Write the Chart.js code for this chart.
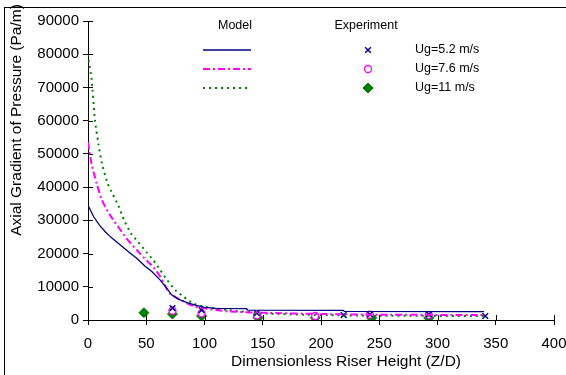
<!DOCTYPE html>
<html>
<head>
<meta charset="utf-8">
<script src="https://cdn.jsdelivr.net/npm/chart.js@4/dist/chart.umd.min.js"></script>
<style>
  html, body { margin: 0; padding: 0; background: #fff; }
  #wrap { position: relative; width: 566px; height: 375px; }
</style>
</head>
<body>
<div id="wrap"><canvas id="mainChart" width="566" height="375"></canvas></div>
<script>
// model curves (Z/D, Pa/m)
var model52X = [0, 5, 10, 15, 20, 27, 35, 42, 49, 55, 62, 67, 72, 78, 85, 92, 100, 110, 136, 137, 219, 220, 340];
var model52Y = [34500, 31000, 28500, 26500, 24800, 22800, 20500, 18500, 16200, 14500, 12000, 9800, 7500, 6200, 5200, 4500, 3800, 3500, 3400, 3000, 2900, 2600, 2500];

var model76X = [0, 3, 7.5, 12, 19, 26, 33, 42, 50, 56, 62, 66, 70, 77, 85, 92, 100, 120, 150, 200, 250, 340];
var model76Y = [53500, 47000, 41000, 36000, 31500, 28000, 24600, 21000, 18000, 16000, 13000, 10500, 8000, 6500, 5000, 4000, 3500, 2600, 2200, 1800, 1600, 1500];

var model11X = [0, 1, 3, 6, 9, 12, 17, 21, 26, 31, 37, 43, 50, 56, 62, 68, 75, 82, 90, 100, 120, 150, 200, 250, 340];
var model11Y = [80000, 77000, 73000, 60000, 53000, 47000, 41000, 38000, 34500, 30000, 26000, 23500, 20500, 18000, 15000, 12000, 9000, 7000, 5000, 4000, 3000, 2000, 1500, 1300, 1200];

// experiment points
var exp52X = [72.5, 97.5, 145, 219.5, 242, 292.5, 341];
var exp52Y = [3600, 3000, 2100, 1500, 1700, 1700, 1200];
var exp76X = [72.5, 97.5, 145, 195, 242, 292.5];
var exp76Y = [2800, 2000, 1400, 1200, 1600, 1500];
var exp11X = [48, 72.5, 97.5, 146, 195, 243.5, 292.5];
var exp11Y = [2200, 1800, 1200, 700, 700, 600, 600];

var xTicks = [0, 50, 100, 150, 200, 250, 300, 350, 400];
var yTicks = [0, 10000, 20000, 30000, 40000, 50000, 60000, 70000, 80000, 90000];

var modelLabels = ['Ug=5.2 m/s', 'Ug=7.6 m/s', 'Ug=11 m/s'];
var xTitle = 'Dimensionless Riser Height (Z/D)';
var yTitle = 'Axial Gradient of Pressure (Pa/m)';

function pts(xs, ys) {
    return xs.map(function (x, i) { return { x: x, y: ys[i] }; });
}

var FONT = '"Liberation Sans", Arial, sans-serif';

var extras = {
    id: 'extras',
    afterDraw: function (chart) {
        var ctx = chart.ctx;
        var xs = chart.scales.x, ys = chart.scales.y;
        var area = chart.chartArea;
        ctx.save();
        // frame
        ctx.strokeStyle = '#000';
        ctx.lineWidth = 1;
        ctx.strokeRect(4.5, 7.5, 600, 400);
        // inner halves of ticks
        ctx.beginPath();
        xTicks.forEach(function (v) {
            var p = Math.round(xs.getPixelForValue(v)) + 0.5;
            ctx.moveTo(p, area.bottom);
            ctx.lineTo(p, area.bottom - 5);
        });
        yTicks.forEach(function (v) {
            var p = Math.round(ys.getPixelForValue(v)) + 0.5;
            ctx.moveTo(area.left, p);
            ctx.lineTo(area.left + 5, p);
        });
        ctx.stroke();

        // axis titles
        ctx.fillStyle = '#000';
        ctx.font = '15.5px ' + FONT;
        ctx.textAlign = 'center';
        ctx.textBaseline = 'middle';
        ctx.fillText(xTitle, 346, 362);
        ctx.save();
        ctx.translate(17, 120);
        ctx.rotate(-Math.PI / 2);
        ctx.fillText(yTitle, 0, 0);
        ctx.restore();

        // legend
        ctx.font = '12.5px ' + FONT;
        ctx.fillText('Model', 235, 26);
        ctx.fillText('Experiment', 366, 26);
        var rows = [50, 69, 88];
        ctx.textAlign = 'left';
        for (var i = 0; i < 3; i++) {
            var line = chart.data.datasets[i];
            ctx.strokeStyle = line.borderColor;
            ctx.lineWidth = line.borderWidth;
            ctx.setLineDash(line.borderDash || []);
            ctx.beginPath();
            ctx.moveTo(203, rows[i]);
            ctx.lineTo(251, rows[i]);
            ctx.stroke();
            ctx.setLineDash([]);
            var ds = chart.data.datasets[i + 3];
            ctx.strokeStyle = ds.borderColor;
            ctx.fillStyle = ds.backgroundColor;
            ctx.lineWidth = ds.pointBorderWidth;
            Chart.helpers.drawPoint(ctx, {
                pointStyle: ds.pointStyle,
                radius: ds.pointRadius,
                borderWidth: ds.pointBorderWidth
            }, 368, rows[i]);
            ctx.fillStyle = '#000';
            ctx.fillText(modelLabels[i], 415, rows[i]);
        }
        ctx.restore();
    }
};

var mainChart = new Chart(document.getElementById('mainChart'), {
    type: 'scatter',
    data: {
        datasets: [{
            label: 'Model 5.2',
            type: 'line',
            data: pts(model52X, model52Y),
            borderColor: '#000080',
            borderWidth: 1.3,
            pointRadius: 0,
            tension: 0
        }, {
            label: 'Model 7.6',
            type: 'line',
            data: pts(model76X, model76Y),
            borderColor: '#FF00FF',
            borderWidth: 2,
            borderDash: [7, 3, 2, 3],
            pointRadius: 0,
            tension: 0.2
        }, {
            label: 'Model 11',
            type: 'line',
            data: pts(model11X, model11Y),
            borderColor: '#008000',
            borderWidth: 2,
            borderDash: [2, 4],
            pointRadius: 0,
            tension: 0.2
        }, {
            label: 'Exp 5.2',
            data: pts(exp52X, exp52Y),
            pointStyle: 'crossRot',
            pointRadius: 4,
            pointBorderWidth: 1.5,
            borderColor: '#000080',
            backgroundColor: '#000080'
        }, {
            label: 'Exp 7.6',
            data: pts(exp76X, exp76Y),
            pointStyle: 'circle',
            pointRadius: 3.5,
            pointBorderWidth: 1.3,
            borderColor: '#FF00FF',
            backgroundColor: '#ffffff'
        }, {
            label: 'Exp 11',
            data: pts(exp11X, exp11Y),
            pointStyle: 'rectRot',
            pointRadius: 5,
            pointBorderWidth: 1,
            borderColor: '#008000',
            backgroundColor: '#008000'
        }]
    },
    options: {
        responsive: false,
        animation: false,
        layout: { padding: { top: 21, right: 12, left: 0, bottom: 0 } },
        plugins: {
            legend: { display: false },
            tooltip: { enabled: false }
        },
        scales: {
            x: {
                type: 'linear',
                min: 0,
                max: 400,
                afterBuildTicks: function (s) { s.ticks = xTicks.map(function (v) { return { value: v }; }); },
                afterFit: function (s) { s.height = 55; s.paddingRight = 0; s.paddingLeft = 0; },
                border: { color: '#000', width: 1 },
                grid: { drawOnChartArea: false, color: '#000', tickLength: 5 },
                ticks: { color: '#000', font: { family: FONT, size: 15 }, padding: 10, maxRotation: 0,
                    callback: function (v) { return String(v); } }
            },
            y: {
                type: 'linear',
                min: 0,
                max: 90000,
                afterBuildTicks: function (s) { s.ticks = yTicks.map(function (v) { return { value: v }; }); },
                afterFit: function (s) { s.width = 88; s.paddingTop = 0; s.paddingBottom = 0; },
                border: { color: '#000', width: 1 },
                grid: { drawOnChartArea: false, color: '#000', tickLength: 5 },
                ticks: { color: '#000', font: { family: FONT, size: 15 }, padding: 4,
                    callback: function (v) { return String(v); } }
            }
        }
    },
    plugins: [extras]
});
</script>
</body>
</html>
